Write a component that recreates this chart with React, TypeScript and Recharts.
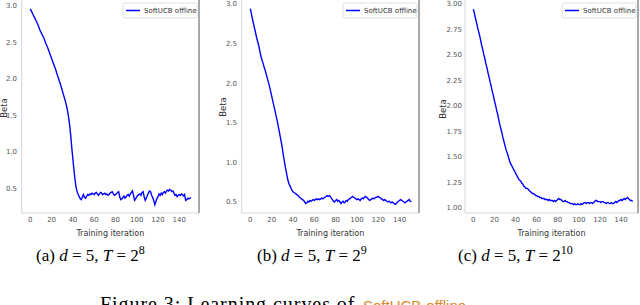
import React from 'react';
import { LineChart, Line, XAxis, YAxis } from 'recharts';

// ---- data ----
const BETA_A = [
  2.96, 2.93, 2.90, 2.87, 2.84, 2.81, 2.78, 2.75, 2.71, 2.67,
  2.64, 2.61, 2.58, 2.55, 2.51, 2.47, 2.44, 2.40, 2.36, 2.32,
  2.28, 2.24, 2.20, 2.16, 2.12, 2.07, 2.03, 1.98, 1.94, 1.89,
  1.84, 1.79, 1.74, 1.69, 1.63, 1.56, 1.47, 1.36, 1.22, 1.05,
  0.90, 0.75, 0.62, 0.51, 0.45, 0.41, 0.38, 0.35, 0.34, 0.38,
  0.41, 0.37, 0.36, 0.39, 0.41, 0.40, 0.42, 0.41, 0.43, 0.42,
  0.41, 0.43, 0.44, 0.42, 0.40, 0.42, 0.44, 0.43, 0.41, 0.42,
  0.43, 0.41, 0.42, 0.40, 0.41, 0.43, 0.44, 0.45, 0.42, 0.40,
  0.41, 0.42, 0.44, 0.45, 0.38, 0.34, 0.35, 0.37, 0.39, 0.36,
  0.38, 0.40, 0.41, 0.39, 0.42, 0.44, 0.46, 0.40, 0.33, 0.35,
  0.38, 0.40, 0.41, 0.42, 0.40, 0.44, 0.45, 0.38, 0.33, 0.36,
  0.40, 0.43, 0.46, 0.45, 0.40, 0.37, 0.33, 0.27, 0.31, 0.36,
  0.38, 0.42, 0.40, 0.43, 0.41, 0.44, 0.45, 0.43, 0.46, 0.47,
  0.46, 0.48, 0.47, 0.45, 0.46, 0.43, 0.40, 0.41, 0.38, 0.40,
  0.41, 0.40, 0.42, 0.41, 0.39, 0.41, 0.33, 0.34, 0.36, 0.35,
  0.36, 0.37,
];

const BETA_B = [
  2.94, 2.88, 2.81, 2.75, 2.69, 2.63, 2.57, 2.52, 2.47, 2.40,
  2.34, 2.29, 2.25, 2.20, 2.16, 2.11, 2.06, 2.01, 1.96, 1.90,
  1.84, 1.78, 1.72, 1.66, 1.60, 1.54, 1.47, 1.40, 1.33, 1.26,
  1.18, 1.09, 1.01, 0.93, 0.86, 0.79, 0.74, 0.71, 0.68, 0.65,
  0.63, 0.62, 0.61, 0.60, 0.59, 0.58, 0.56, 0.55, 0.54, 0.53,
  0.52, 0.50, 0.48, 0.49, 0.51, 0.50, 0.52, 0.51, 0.52, 0.53,
  0.52, 0.53, 0.54, 0.53, 0.54, 0.53, 0.54, 0.55, 0.54, 0.55,
  0.56, 0.57, 0.58, 0.57, 0.58, 0.57, 0.55, 0.53, 0.51, 0.50,
  0.52, 0.53, 0.51, 0.52, 0.50, 0.48, 0.50, 0.51, 0.49, 0.50,
  0.52, 0.51, 0.53, 0.54, 0.55, 0.56, 0.57, 0.56, 0.55, 0.54,
  0.53, 0.54, 0.53, 0.52, 0.54, 0.55, 0.54, 0.56, 0.57, 0.56,
  0.55, 0.53, 0.52, 0.53, 0.54, 0.55, 0.54, 0.55, 0.56, 0.56,
  0.57, 0.56, 0.55, 0.54, 0.53, 0.52, 0.53, 0.52, 0.51, 0.50,
  0.51, 0.50, 0.49, 0.50, 0.49, 0.48, 0.47, 0.48, 0.50, 0.51,
  0.52, 0.53, 0.52, 0.51, 0.50, 0.49, 0.50, 0.51, 0.52, 0.53,
  0.51, 0.50,
];

const BETA_C = [
  2.95, 2.91, 2.86, 2.82, 2.77, 2.73, 2.69, 2.64, 2.59, 2.55,
  2.50, 2.46, 2.41, 2.37, 2.32, 2.28, 2.23, 2.19, 2.14, 2.10,
  2.05, 2.01, 1.96, 1.92, 1.87, 1.82, 1.78, 1.74, 1.69, 1.65,
  1.61, 1.57, 1.54, 1.51, 1.47, 1.44, 1.42, 1.40, 1.38, 1.36,
  1.34, 1.32, 1.30, 1.28, 1.27, 1.26, 1.24, 1.23, 1.21, 1.20,
  1.19, 1.19, 1.18, 1.17, 1.16, 1.15, 1.14, 1.14, 1.13, 1.12,
  1.12, 1.11, 1.11, 1.10, 1.10, 1.09, 1.09, 1.09, 1.08, 1.08,
  1.08, 1.07, 1.08, 1.07, 1.07, 1.07, 1.06, 1.07, 1.06, 1.07,
  1.08, 1.09, 1.08, 1.08, 1.07, 1.06, 1.06, 1.07, 1.06, 1.06,
  1.05, 1.05, 1.04, 1.04, 1.04, 1.03, 1.04, 1.03, 1.03, 1.04,
  1.03, 1.03, 1.04, 1.03, 1.04, 1.05, 1.05, 1.04, 1.05, 1.05,
  1.04, 1.05, 1.05, 1.04, 1.05, 1.06, 1.07, 1.07, 1.06, 1.06,
  1.06, 1.05, 1.06, 1.06, 1.05, 1.05, 1.04, 1.05, 1.05, 1.04,
  1.04, 1.05, 1.04, 1.04, 1.05, 1.06, 1.05, 1.06, 1.07, 1.07,
  1.08, 1.07, 1.08, 1.09, 1.08, 1.09, 1.10, 1.09, 1.08, 1.07,
  1.07, 1.06,
];

const ITERATIONS = BETA_A.map((_, i) => i);
const X_TICKS = [0, 20, 40, 60, 80, 100, 120, 140];
const Y_TICKS_AB = [0.5, 1.0, 1.5, 2.0, 2.5, 3.0];
const Y_TICKS_C = [1.0, 1.25, 1.5, 1.75, 2.0, 2.25, 2.5, 2.75, 3.0];
const SERIES_NAME = 'SoftUCB offline';
const X_LABEL = 'Training iteration';
const Y_LABEL = 'Beta';
const CAPTION_LETTERS = ['a', 'b', 'c'];
const CAPTION_D = '5';
const CAPTION_EXP = ['8', '9', '10'];
const FIG_PREFIX = 'Figure 3: Learning curves of';
const FIG_LINK = 'SoftUCB-offline';

// ---- layout ----
const PLOT_BOTTOM = 213;
const X_AXIS_H = 30;
const BLUE = '#0000ff';
const TICK_STYLE = { fontSize: 7, fill: '#555', fontFamily: 'DejaVu Sans' };

type PanelCfg = {
  left: number;
  right: number;
  yw: number;
  xDomain: [number, number];
  yDomain: [number, number];
  yTicks: number[];
  dec: number;
  values: number[];
  ylabelX: number;
  ylabelY: number;
  captionX: number;
};

const PANELS: PanelCfg[] = [
  { left: 21.7, right: 199, yw: 20, xDomain: [-7.8, 158.8], yDomain: [0.157, 3.082], yTicks: Y_TICKS_AB, dec: 1, values: BETA_A, ylabelX: 4, ylabelY: 108, captionX: 36 },
  { left: 241.7, right: 419, yw: 20, xDomain: [-7.8, 158.5], yDomain: [0.361, 3.05], yTicks: Y_TICKS_AB, dec: 1, values: BETA_B, ylabelX: 223, ylabelY: 107, captionX: 257 },
  { left: 465, right: 638, yw: 30, xDomain: [-7.9, 156.1], yDomain: [0.948, 3.039], yTicks: Y_TICKS_C, dec: 2, values: BETA_C, ylabelX: 443, ylabelY: 109, captionX: 458 },
];

function Panel({ cfg }: { cfg: PanelCfg }) {
  const data = ITERATIONS.map((it, i) => ({ iter: it, beta: cfg.values[i] }));
  const plotW = cfg.right - cfg.left;
  return (
    <div style={{ position: 'absolute', left: cfg.left - cfg.yw, top: 0 }}>
      <LineChart
        width={cfg.yw + plotW}
        height={PLOT_BOTTOM + X_AXIS_H}
        data={data}
        margin={{ top: 0, right: 0, bottom: 0, left: 0 }}
      >
        <XAxis
          dataKey="iter"
          type="number"
          domain={cfg.xDomain}
          ticks={X_TICKS}
          allowDataOverflow
          height={X_AXIS_H}
          tickLine={false}
          axisLine={false}
          tickSize={0}
          tickMargin={4}
          tick={TICK_STYLE}
          interval={0}
        />
        <YAxis
          type="number"
          domain={cfg.yDomain}
          ticks={cfg.yTicks}
          allowDataOverflow
          width={cfg.yw}
          tickLine={false}
          axisLine={false}
          tickSize={0}
          tickMargin={cfg.dec === 2 ? 3 : 5}
          tick={TICK_STYLE}
          interval={0}
          tickFormatter={(v: number) => v.toFixed(cfg.dec)}
        />
        <Line
          dataKey="beta"
          type="linear"
          stroke={BLUE}
          strokeWidth={1.4}
          dot={false}
          isAnimationActive={false}
        />
      </LineChart>
    </div>
  );
}

function Overlay() {
  return (
    <svg width={640} height={305} style={{ position: 'absolute', left: 0, top: 0, pointerEvents: 'none' }}>
      {PANELS.map((p, i) => {
        const cx = (p.left + p.right) / 2;
        const lx = p.right - 76;
        return (
          <g key={i}>
            <line x1={p.left} y1={0} x2={p.left} y2={PLOT_BOTTOM} stroke="#d6d6d6" strokeWidth={1} />
            <line x1={p.left} y1={PLOT_BOTTOM} x2={p.right} y2={PLOT_BOTTOM} stroke="#d6d6d6" strokeWidth={1} />
            <line x1={p.right} y1={0} x2={p.right} y2={PLOT_BOTTOM} stroke="#555" strokeWidth={1} />
            <rect x={lx} y={3} width={74} height={15} rx={2} fill="#fff" stroke="#d8d8d8" strokeWidth={0.8} />
            <line x1={lx + 3} y1={10.5} x2={lx + 17} y2={10.5} stroke={BLUE} strokeWidth={1.5} />
            <text x={lx + 21} y={13} fontSize={7} fill="#333" fontFamily="DejaVu Sans">{SERIES_NAME}</text>
            <text
              x={p.ylabelX}
              y={p.ylabelY}
              fontSize={8.5}
              fill="#333"
              fontFamily="DejaVu Sans"
              textAnchor="middle"
              dominantBaseline="central"
              transform={`rotate(-90 ${p.ylabelX} ${p.ylabelY})`}
            >
              {Y_LABEL}
            </text>
            <text x={cx} y={236} fontSize={8} fill="#333" fontFamily="DejaVu Sans" textAnchor="middle">{X_LABEL}</text>
            <text x={p.captionX} y={261} fontSize={17} fill="#000" fontFamily="Liberation Serif">
              <tspan>({CAPTION_LETTERS[i]}) </tspan>
              <tspan fontStyle="italic">d</tspan>
              <tspan> = {CAPTION_D}, </tspan>
              <tspan fontStyle="italic">T</tspan>
              <tspan> = 2</tspan>
              <tspan fontSize={12} dy={-7}>{CAPTION_EXP[i]}</tspan>
            </text>
          </g>
        );
      })}
      <text x={100} y={311} fontSize={20} fill="#000" fontFamily="Liberation Serif" letterSpacing={0.95}>
        {FIG_PREFIX}
      </text>
      <text x={363} y={311} fontSize={15} fill="#d98a2b" fontFamily="Liberation Sans">
        {FIG_LINK}
      </text>
    </svg>
  );
}

export default function App() {
  return (
    <div style={{ position: 'absolute', left: 0, top: 0, width: 640, height: 305, background: '#fff', overflow: 'hidden' }}>
      {PANELS.map((p, i) => (
        <Panel key={i} cfg={p} />
      ))}
      <Overlay />
    </div>
  );
}
